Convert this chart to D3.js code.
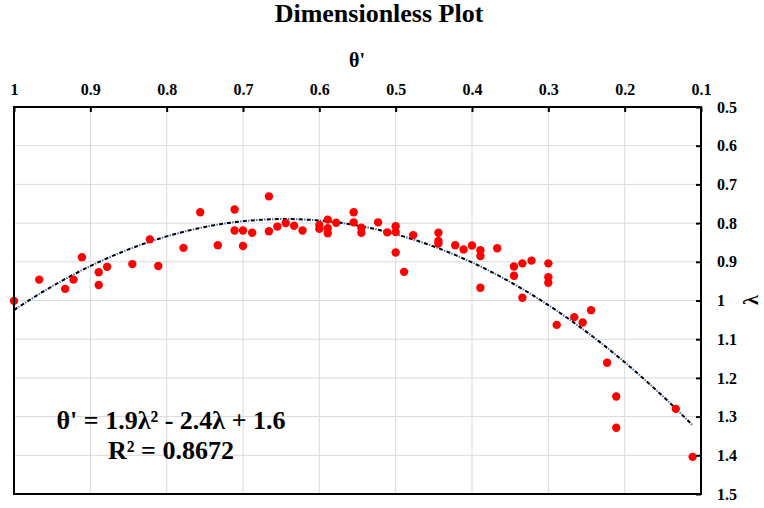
<!DOCTYPE html>
<html>
<head>
<meta charset="utf-8">
<script src="https://cdn.jsdelivr.net/npm/d3@7"></script>
<style>
  body { margin: 0; background: #fff; }
  svg text { font-family: "Liberation Serif", "Times New Roman", serif; font-weight: bold; fill: #000; }
</style>
</head>
<body>
<div id="chart"></div>
<script>
// Data
const thetaVals = [
  1.000, 0.967, 0.933, 0.922, 0.911, 0.889, 0.889, 0.878, 0.845, 0.822, 0.811, 0.778,
  0.756, 0.733, 0.711, 0.711, 0.700, 0.700, 0.688, 0.666, 0.666, 0.655, 0.644, 0.633,
  0.622, 0.600, 0.600, 0.589, 0.589, 0.589, 0.578, 0.555, 0.555, 0.545, 0.545, 0.523,
  0.511, 0.500, 0.500, 0.500, 0.489, 0.477, 0.444, 0.444, 0.444, 0.422, 0.411, 0.400,
  0.389, 0.389, 0.389, 0.367, 0.345, 0.345, 0.334, 0.334, 0.322, 0.300, 0.300, 0.300,
  0.289, 0.266, 0.255, 0.244, 0.223, 0.211, 0.211, 0.133, 0.111
];
const lambdaVals = [
  1.001, 0.946, 0.970, 0.946, 0.888, 0.927, 0.960, 0.913, 0.906, 0.842, 0.911, 0.864,
  0.772, 0.857, 0.765, 0.819, 0.819, 0.859, 0.825, 0.731, 0.821, 0.809, 0.800, 0.807,
  0.819, 0.805, 0.815, 0.791, 0.813, 0.826, 0.799, 0.772, 0.798, 0.812, 0.825, 0.798,
  0.824, 0.808, 0.823, 0.876, 0.926, 0.831, 0.825, 0.846, 0.853, 0.857, 0.868, 0.858,
  0.870, 0.885, 0.967, 0.865, 0.912, 0.936, 0.904, 0.993, 0.897, 0.904, 0.940, 0.954,
  1.063, 1.043, 1.057, 1.025, 1.161, 1.248, 1.329, 1.280, 1.404
];
const xTicks = [1, 0.9, 0.8, 0.7, 0.6, 0.5, 0.4, 0.3, 0.2, 0.1];
const yTicks = [0.5, 0.6, 0.7, 0.8, 0.9, 1, 1.1, 1.2, 1.3, 1.4, 1.5];
// polynomial trendline (lambda vs theta'): constant, linear, square
const trendCoef = [1.567, -2.411, 1.869];
const eqLines = ["θ' = 1.9λ² - 2.4λ + 1.6", "R² = 0.8672"];

const width = 764;
const height = 508;
const plotL = 14, plotR = 701, plotT = 107, plotB = 494;

const svg = d3.select('#chart')
  .append('svg')
  .attr('width', width)
  .attr('height', height);

const x = d3.scaleLinear().domain([1, 0.1]).range([plotL, plotR]);
const y = d3.scaleLinear().domain([0.5, 1.5]).range([plotT, plotB]);
const fmt = d => String(+d.toFixed(1));

// Gridlines
svg.append('g')
  .selectAll('line')
  .data(xTicks)
  .enter()
  .append('line')
  .attr('x1', d => x(d)).attr('x2', d => x(d))
  .attr('y1', plotT).attr('y2', plotB)
  .attr('stroke', '#d9d9d9')
  .attr('stroke-width', 1);

svg.append('g')
  .selectAll('line')
  .data(yTicks)
  .enter()
  .append('line')
  .attr('x1', plotL).attr('x2', plotR)
  .attr('y1', d => y(d)).attr('y2', d => y(d))
  .attr('stroke', '#d9d9d9')
  .attr('stroke-width', 1);

// Trendline
const tMin = d3.min(thetaVals), tMax = d3.max(thetaVals);
const trendPts = d3.range(tMax, tMin, -0.005)
  .concat([tMin])
  .map(t => [t, trendCoef[0] + trendCoef[1] * t + trendCoef[2] * t * t]);
const line = d3.line().x(d => x(d[0])).y(d => y(d[1]));

svg.append('path')
  .datum(trendPts)
  .attr('d', line)
  .attr('fill', 'none')
  .attr('stroke', '#4472c4')
  .attr('stroke-width', 2)
  .attr('stroke-dasharray', '1.5,6.5')
  .attr('stroke-dashoffset', -5.2);

svg.append('path')
  .datum(trendPts)
  .attr('d', line)
  .attr('fill', 'none')
  .attr('stroke', '#000')
  .attr('stroke-width', 2)
  .attr('stroke-dasharray', '4,4');

// Points
svg.append('g')
  .selectAll('circle')
  .data(thetaVals)
  .enter()
  .append('circle')
  .attr('cx', d => x(d))
  .attr('cy', (d, i) => y(lambdaVals[i]))
  .attr('r', 4.2)
  .attr('fill', '#ff0000');

// Frame
svg.append('rect')
  .attr('x', plotL).attr('y', plotT)
  .attr('width', plotR - plotL).attr('height', plotB - plotT)
  .attr('fill', 'none')
  .attr('stroke', '#000')
  .attr('stroke-width', 2);

// Axes (top and right, ticks inside)
const xAxis = d3.axisTop(x).tickValues(xTicks).tickFormat(fmt)
  .tickSizeInner(-5).tickSizeOuter(0).tickPadding(12);
const gx = svg.append('g')
  .attr('transform', `translate(0,${plotT})`)
  .call(xAxis);
gx.select('.domain').remove();
gx.selectAll('line').attr('stroke', '#000').attr('stroke-width', 2);
gx.selectAll('text').style('font-size', '16px');

const yAxis = d3.axisRight(y).tickValues(yTicks).tickFormat(fmt)
  .tickSizeInner(-5).tickSizeOuter(0).tickPadding(16);
const gy = svg.append('g')
  .attr('transform', `translate(${plotR},0)`)
  .call(yAxis);
gy.select('.domain').remove();
gy.selectAll('line').attr('stroke', '#000').attr('stroke-width', 2);
gy.selectAll('text').style('font-size', '16px');

// Titles
svg.append('text')
  .text('Dimensionless Plot')
  .attr('x', 379).attr('y', 22)
  .attr('text-anchor', 'middle')
  .style('font-size', '26px');

svg.append('text')
  .text("θ'")
  .attr('x', 357).attr('y', 67)
  .attr('text-anchor', 'middle')
  .style('font-size', '20px');

svg.append('text')
  .text('λ')
  .attr('transform', 'translate(751,300) rotate(-90)')
  .attr('text-anchor', 'middle')
  .attr('dy', '0.35em')
  .style('font-size', '20px');

// Trendline label
svg.append('g')
  .selectAll('text')
  .data(eqLines)
  .enter()
  .append('text')
  .text(d => d)
  .attr('x', 171)
  .attr('y', (d, i) => 429 + i * 30)
  .attr('text-anchor', 'middle')
  .style('font-size', '26px');
</script>
</body>
</html>
